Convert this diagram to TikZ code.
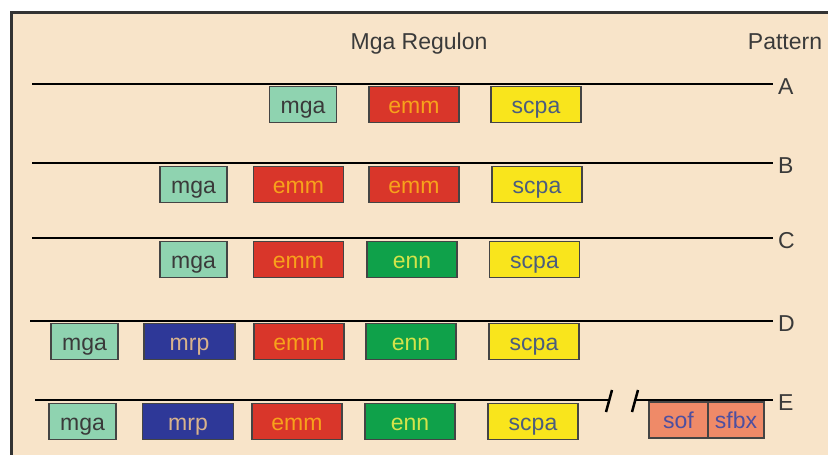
\documentclass[tikz,border=0pt]{standalone}
\usepackage{fontspec}
\setmainfont{Liberation Sans}
\usetikzlibrary{positioning,calc}

\definecolor{paper}{HTML}{F8E4C9}
\definecolor{frame}{HTML}{333333}
\definecolor{boxline}{HTML}{444444}
\definecolor{mgafill}{HTML}{8FD3B0}
\definecolor{mgatext}{HTML}{3A3A3A}
\definecolor{emmfill}{HTML}{D9362A}
\definecolor{emmtext}{HTML}{F7A21B}
\definecolor{scpafill}{HTML}{F9E51C}
\definecolor{scpatext}{HTML}{4B5D7E}
\definecolor{ennfill}{HTML}{0FA14A}
\definecolor{enntext}{HTML}{D4E34A}
\definecolor{mrpfill}{HTML}{2E3898}
\definecolor{mrptext}{HTML}{D9B38C}
\definecolor{soffill}{HTML}{EF8A68}
\definecolor{softext}{HTML}{4D4FA0}

\newcommand{\genefont}{\fontsize{23}{27}\selectfont}

\tikzstyle{gene}=[draw=boxline,line width=1.3pt,minimum height=36pt,inner sep=0pt,text height=17pt,text depth=0pt,font=\genefont]
\tikzstyle{mga}=[gene,fill=mgafill,text=mgatext,minimum width=67pt]
\tikzstyle{emm}=[gene,fill=emmfill,text=emmtext,minimum width=90pt]
\tikzstyle{scpa}=[gene,fill=scpafill,text=scpatext,minimum width=90pt]
\tikzstyle{enn}=[gene,fill=ennfill,text=enntext,minimum width=90pt]
\tikzstyle{mrp}=[gene,fill=mrpfill,text=mrptext,minimum width=91pt]
\tikzstyle{sof}=[gene,fill=soffill,text=softext,minimum width=59pt]
\tikzstyle{sfbx}=[gene,fill=soffill,text=softext,minimum width=56pt]
\tikzstyle{chrom}=[draw,line width=2.8pt,-]
\tikzstyle{letter}=[font=\genefont,text=mgatext,inner sep=5pt,anchor=base west]

\begin{document}
\begin{tikzpicture}[x=1pt, y=-1pt]
    \useasboundingbox (0,0) rectangle (828,455);
    \fill[white] (0,0) rectangle (828,455);
    \draw[fill=paper, draw=frame, line width=3pt] (11,12) rectangle (845,470);
    % headings
    \node[font=\genefont, text=mgatext, anchor=base] (title) at (419,49) {Mga Regulon};
    \node[font=\genefont, text=mgatext, anchor=base] (head) at (785,49) {Pattern};
    % chromosome lines with their pattern letters
    \foreach \y/\x/\name in {84/32/A, 163/32/B, 238/32/C, 321/30/D, 400/35/E}
    {
        \coordinate (s\name) at (\x,\y);
        \node[letter] (\name) at (773,\y+10) {\name};
    }
    \foreach \name in {A,B,C,D}
        \path[chrom] (s\name) -- (s\name -| \name.west);
    % E is broken
    \coordinate (brkL) at (608,400);
    \coordinate (brkR) at (636,400);
    \path[chrom] (sE) -- (brkL);
    \path[chrom] (brkR) -- (brkR -| E.west);
    \draw[line width=2.5pt] ($(brkL)+(-2,12)$) -- ++(6,-22);
    \draw[line width=2.5pt] ($(brkR)+(-4,12)$) -- ++(6,-22);
    % genes
    \foreach \pos/\kind/\name in {{(303,104.5)/mga/mgaA}, {(414,104.5)/emm/emmA}, {(536,104.5)/scpa/scpaA},
        {(193.5,184.5)/mga/mgaB}, {(298.5,184.5)/emm/emmB}, {(414,184.5)/emm/emmBB}, {(537,184.5)/scpa/scpaB},
        {(193.5,259.5)/mga/mgaC}, {(298.5,259.5)/emm/emmC}, {(412,259.5)/enn/ennC}, {(534.5,259.5)/scpa/scpaC},
        {(84.5,341.5)/mga/mgaD}, {(189.5,341.5)/mrp/mrpD}, {(299,341.5)/emm/emmD}, {(411,341.5)/enn/ennD}, {(534,341.5)/scpa/scpaD},
        {(82.5,421.5)/mga/mgaE}, {(188,421.5)/mrp/mrpE}, {(297,421.5)/emm/emmE}, {(410,421.5)/enn/ennE}, {(533,421.5)/scpa/scpaE},
        {(678.5,420)/sof/sofE}, {(736,420)/sfbx/sfbxE}}
        \node[\kind] (\name) at \pos {\kind};
\end{tikzpicture}
\end{document}
